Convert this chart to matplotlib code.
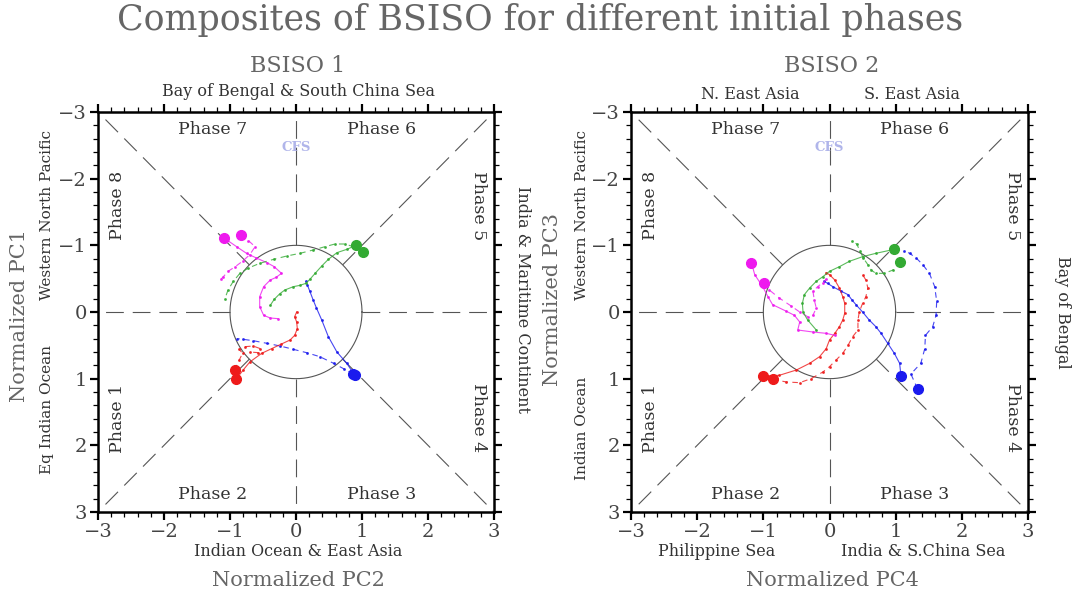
import numpy as np
import matplotlib.pyplot as plt
from matplotlib.ticker import MultipleLocator

# BSISO1 (PC2 na osi x, PC1 na osi y)
b1_blue_s_x = [0.89, 0.77, 0.62, 0.49, 0.39, 0.31, 0.26, 0.21, 0.17, 0.15]
b1_blue_s_y = [0.95, 0.77, 0.60, 0.37, 0.12, -0.06, -0.18, -0.31, -0.41, -0.46]
b1_blue_d_x = [0.87, 0.72, 0.57, 0.36, 0.16, -0.04, -0.24, -0.44, -0.65, -0.80, -0.89]
b1_blue_d_y = [0.93, 0.85, 0.77, 0.67, 0.61, 0.56, 0.51, 0.47, 0.43, 0.41, 0.40]
b1_red_s_x = [-0.91, -0.80, -0.70, -0.52, -0.37, -0.22, -0.09, -0.02, 0.02, 0.01, -0.02, 0.01]
b1_red_s_y = [1.01, 0.87, 0.75, 0.62, 0.55, 0.48, 0.42, 0.35, 0.25, 0.15, 0.07, 0.0]
b1_red_d_x = [-0.93, -0.86, -0.81, -0.86, -0.77, -0.65, -0.54, -0.57, -0.70]
b1_red_d_y = [0.87, 0.72, 0.62, 0.56, 0.52, 0.51, 0.55, 0.61, 0.60]
b1_mag_s_x = [-1.09, -0.90, -0.75, -0.60, -0.44, -0.33, -0.22, -0.30, -0.39, -0.49, -0.55, -0.55, -0.49, -0.39, -0.27]
b1_mag_s_y = [-1.11, -0.98, -0.88, -0.81, -0.74, -0.68, -0.58, -0.52, -0.48, -0.38, -0.23, -0.08, 0.05, 0.09, 0.10]
b1_mag_d_x = [-0.84, -0.72, -0.62, -0.70, -0.80, -0.92, -1.03, -1.10, -1.14]
b1_mag_d_y = [-1.15, -1.07, -0.98, -0.86, -0.77, -0.68, -0.61, -0.53, -0.49]
b1_grn_s_x = [0.91, 0.77, 0.62, 0.49, 0.39, 0.29, 0.21, 0.15, 0.06, -0.04, -0.17, -0.25, -0.33, -0.39]
b1_grn_s_y = [-1.0, -0.94, -0.89, -0.79, -0.69, -0.58, -0.49, -0.43, -0.40, -0.38, -0.33, -0.27, -0.19, -0.10]
b1_grn_d_x = [1.01, 0.87, 0.74, 0.59, 0.44, 0.26, 0.06, -0.14, -0.34, -0.55, -0.72, -0.85, -0.95, -1.03, -1.08]
b1_grn_d_y = [-0.90, -0.98, -1.02, -1.02, -0.98, -0.93, -0.88, -0.84, -0.79, -0.73, -0.66, -0.58, -0.46, -0.33, -0.19]

# BSISO2 (PC4 na osi x, PC3 na osi y)
b2_blue_s_x = [1.08, 1.06, 0.98, 0.88, 0.78, 0.70, 0.60, 0.50, 0.40, 0.34, 0.28, 0.18, 0.05, -0.03, -0.08]
b2_blue_s_y = [0.96, 0.77, 0.62, 0.47, 0.32, 0.22, 0.12, 0.0, -0.11, -0.18, -0.26, -0.31, -0.38, -0.43, -0.46]
b2_blue_d_x = [1.33, 1.23, 1.38, 1.44, 1.45, 1.56, 1.61, 1.62, 1.59, 1.51, 1.41, 1.31, 1.21, 1.13]
b2_blue_d_y = [1.15, 0.93, 0.77, 0.55, 0.35, 0.22, 0.05, -0.16, -0.38, -0.58, -0.71, -0.81, -0.88, -0.92]
b2_red_s_x = [-1.01, -0.76, -0.50, -0.30, -0.15, -0.05, 0.0, 0.08, 0.15, 0.20, 0.23, 0.23, 0.20, 0.15, 0.08, 0.0, -0.05]
b2_red_s_y = [0.96, 0.95, 0.87, 0.77, 0.67, 0.55, 0.42, 0.32, 0.22, 0.12, 0.02, -0.13, -0.23, -0.36, -0.48, -0.56, -0.59]
b2_red_d_x = [-0.86, -0.65, -0.45, -0.28, -0.10, 0.0, 0.10, 0.20, 0.28, 0.35, 0.43, 0.43, 0.45, 0.50, 0.55, 0.58, 0.55, 0.50]
b2_red_d_y = [1.01, 1.05, 1.06, 1.00, 0.90, 0.82, 0.72, 0.62, 0.50, 0.37, 0.27, 0.12, 0.0, -0.13, -0.23, -0.36, -0.48, -0.56]
b2_mag_s_x = [-1.18, -1.13, -1.01, -0.93, -0.86, -0.65, -0.53, -0.45, -0.48, -0.25, -0.05, 0.08]
b2_mag_s_y = [-0.74, -0.56, -0.38, -0.23, -0.11, -0.01, 0.05, 0.15, 0.27, 0.30, 0.32, 0.35]
b2_mag_d_x = [-0.99, -0.91, -0.76, -0.58, -0.45, -0.33, -0.25, -0.20, -0.23, -0.25, -0.18, -0.10, -0.05]
b2_mag_d_y = [-0.43, -0.33, -0.21, -0.09, 0.0, 0.07, 0.05, -0.06, -0.18, -0.31, -0.38, -0.44, -0.49]
b2_grn_s_x = [0.98, 0.70, 0.50, 0.30, 0.15, 0.0, -0.10, -0.20, -0.30, -0.38, -0.41, -0.40, -0.33, -0.20]
b2_grn_s_y = [-0.94, -0.88, -0.83, -0.76, -0.68, -0.61, -0.53, -0.46, -0.36, -0.26, -0.13, 0.0, 0.12, 0.27]
b2_grn_d_x = [1.07, 0.96, 0.83, 0.70, 0.63, 0.58, 0.51, 0.46, 0.41, 0.34]
b2_grn_d_y = [-0.75, -0.63, -0.58, -0.58, -0.63, -0.71, -0.81, -0.92, -1.02, -1.07]

kolory = {'blue': '#1a1aee', 'red': '#ee1a1a', 'mag': '#ee1aee', 'grn': '#33aa33'}
ticks = [-3, -2, -1, 0, 1, 2, 3]
fazy = ['Phase 7', 'Phase 6', 'Phase 8', 'Phase 5', 'Phase 1', 'Phase 4', 'Phase 2', 'Phase 3']

plt.rcParams['font.family'] = 'DejaVu Serif'
W, H = 1077, 594
fig = plt.figure(figsize=(W / 100, H / 100), dpi=100)

def ftext(x, y, s, **kw):
    # pozycja w pikselach obrazka
    fig.text(x / W, 1 - y / H, s, ha='center', va='center', **kw)

def panel(ax, seria):
    ax.set_xlim(-3, 3)
    ax.set_ylim(3, -3)
    # linie podziału faz (poza okręgiem)
    for k in range(8):
        kat = k * np.pi / 4
        c, s = np.cos(kat), np.sin(kat)
        r_max = 3 / max(abs(c), abs(s))
        ax.plot([c, r_max * c], [s, r_max * s], color='#555555', lw=0.8,
                dashes=(16, 8))
    t = np.linspace(0, 2 * np.pi, 200)
    ax.plot(np.cos(t), np.sin(t), color='#555555', lw=0.8)
    for (kol, styl), (xs, ys) in seria.items():
        c = kolory[kol]
        if styl == 's':
            ax.plot(xs, ys, color=c, lw=0.8, marker='.', ms=2.2, alpha=0.8)
        else:
            ax.plot(xs, ys, color=c, lw=0.8, marker='.', ms=2.2, alpha=0.8,
                    dashes=(5, 4))
        ax.plot(xs[0], ys[0], 'o', color=c, ms=7)
    # podpisy faz
    pos = [(-1.27, -2.73, 0), (1.29, -2.73, 0), (-2.71, -1.6, 90), (2.76, -1.6, -90),
           (-2.71, 1.59, 90), (2.76, 1.59, -90), (-1.27, 2.74, 0), (1.29, 2.74, 0)]
    for (px, py, rot), f in zip(pos, fazy):
        ax.text(px, py, f, ha='center', va='center', rotation=rot,
                fontsize=12.5, color='#333333')
    ax.text(0, -2.47, 'CFS', ha='center', va='center', fontsize=9.5,
            fontweight='bold', color='#b0b5ea')
    ax.set_xticks(ticks)
    ax.set_yticks(ticks)
    ax.xaxis.set_minor_locator(MultipleLocator(0.2))
    ax.yaxis.set_minor_locator(MultipleLocator(0.2))
    ax.tick_params(which='both', direction='out', top=True, right=True,
                   labelsize=14, labelcolor='#444444')
    ax.tick_params(which='major', length=6, width=1.6, pad=2)
    ax.tick_params(which='minor', length=3.5, width=0.9)
    for sp in ax.spines.values():
        sp.set_linewidth(1.8)

ax1 = fig.add_axes([98 / W, 1 - 512 / H, 396 / W, 400 / H])
ax2 = fig.add_axes([631 / W, 1 - 512 / H, 397 / W, 400 / H])

panel(ax1, {('blue', 's'): (b1_blue_s_x, b1_blue_s_y), ('blue', 'd'): (b1_blue_d_x, b1_blue_d_y),
            ('red', 's'): (b1_red_s_x, b1_red_s_y), ('red', 'd'): (b1_red_d_x, b1_red_d_y),
            ('mag', 's'): (b1_mag_s_x, b1_mag_s_y), ('mag', 'd'): (b1_mag_d_x, b1_mag_d_y),
            ('grn', 's'): (b1_grn_s_x, b1_grn_s_y), ('grn', 'd'): (b1_grn_d_x, b1_grn_d_y)})
panel(ax2, {('blue', 's'): (b2_blue_s_x, b2_blue_s_y), ('blue', 'd'): (b2_blue_d_x, b2_blue_d_y),
            ('red', 's'): (b2_red_s_x, b2_red_s_y), ('red', 'd'): (b2_red_d_x, b2_red_d_y),
            ('mag', 's'): (b2_mag_s_x, b2_mag_s_y), ('mag', 'd'): (b2_mag_d_x, b2_mag_d_y),
            ('grn', 's'): (b2_grn_s_x, b2_grn_s_y), ('grn', 'd'): (b2_grn_d_x, b2_grn_d_y)})

szary = '#666666'
ciemny = '#333333'
ftext(540, 20, 'Composites of BSISO for different initial phases', fontsize=25, color=szary)

# BSISO 1
ftext(298, 66, 'BSISO 1', fontsize=16, color=szary)
ftext(298, 91, 'Bay of Bengal & South China Sea', fontsize=11.5, color=ciemny)
ftext(298, 551, 'Indian Ocean & East Asia', fontsize=11.5, color=ciemny)
ftext(298, 580, 'Normalized PC2', fontsize=15, color=szary)
ftext(20, 315, 'Normalized PC1', fontsize=15, color=szary, rotation=90)
ftext(47, 215, 'Western North Pacific', fontsize=11, color=ciemny, rotation=90)
ftext(47, 409, 'Eq Indian Ocean', fontsize=11, color=ciemny, rotation=90)
ftext(523, 300, 'India & Maritime Continent', fontsize=11.5, color=ciemny, rotation=-90)

# BSISO 2
ftext(832, 66, 'BSISO 2', fontsize=16, color=szary)
ftext(750, 94, 'N. East Asia', fontsize=11.5, color=ciemny)
ftext(912, 94, 'S. East Asia', fontsize=11.5, color=ciemny)
ftext(717, 551, 'Philippine Sea', fontsize=11.5, color=ciemny)
ftext(923, 551, 'India & S.China Sea', fontsize=11.5, color=ciemny)
ftext(832, 580, 'Normalized PC4', fontsize=15, color=szary)
ftext(553, 300, 'Normalized PC3', fontsize=15, color=szary, rotation=90)
ftext(582, 215, 'Western North Pacific', fontsize=11, color=ciemny, rotation=90)
ftext(582, 428, 'Indian Ocean', fontsize=11, color=ciemny, rotation=90)
ftext(1062, 312, 'Bay of Bengal', fontsize=11.5, color=ciemny, rotation=-90)

fig.savefig('out.png', dpi=100)
